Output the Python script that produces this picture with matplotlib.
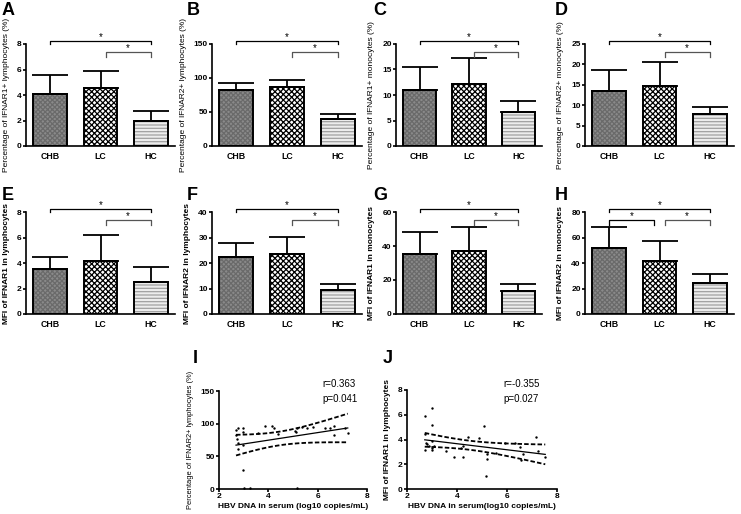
import numpy as np
import matplotlib.pyplot as plt
from matplotlib.transforms import blended_transform_factory

plt.rcParams['font.family'] = ['Liberation Sans', 'DejaVu Sans']
plt.rcParams['hatch.linewidth'] = 0.9

groups = ['CHB', 'LC', 'HC']

# ------------------------------
# bar panel values (mean, upper SD)
# ------------------------------
a_mean = [4.1, 4.55, 2.0]
a_err = [1.45, 1.35, 0.75]
b_mean = [82, 86.5, 39]
b_err = [10.5, 11, 7.5]
c_mean = [11.0, 12.1, 6.7]
c_err = [4.5, 5.2, 2.1]
d_mean = [13.5, 14.8, 7.8]
d_err = [5.1, 5.9, 1.8]
e_mean = [3.55, 4.15, 2.5]
e_err = [0.95, 2.05, 1.15]
f_mean = [22.5, 23.5, 9.5]
f_err = [5.5, 6.8, 2.3]
g_mean = [35.5, 37, 13.5]
g_err = [13, 14, 4]
h_mean = [51.5, 41.5, 24]
h_err = [17, 15.5, 7.5]

# ------------------------------
# scatter data (HBV DNA log10 copies/mL vs marker)
# ------------------------------
i_x = [2.69, 2.76, 2.69, 2.72, 2.75, 2.76, 2.99, 2.99, 2.99, 2.99, 3.0, 3.26,
       3.57, 3.87, 4.14, 4.21, 4.41, 5.09, 5.13, 5.18, 5.18, 5.36, 5.56, 5.83,
       6.31, 6.51, 6.65, 6.65, 7.12, 7.22]
i_y = [91, 94, 83, 77, 71, 61, 94, 88, 67, 29, 2, 2,
       86, 97, 96, 94, 84, 89, 87, 94, 2, 95, 94, 95,
       93, 93, 96, 82, 93, 86]
j_x = [2.71, 2.71, 2.74, 2.71, 2.81, 2.88, 2.98, 2.98, 2.98, 2.98, 3.01, 3.08,
       3.55, 3.89, 4.16, 4.22, 4.25, 4.43, 4.87, 5.06, 5.14, 5.19, 5.19, 5.57,
       5.91, 6.31, 6.51, 6.54, 6.65, 7.16, 7.22, 7.53]
j_y = [5.87, 4.45, 3.73, 3.12, 3.6, 3.47, 6.53, 5.15, 3.87, 3.33, 3.12, 3.47,
       3.07, 2.59, 3.28, 2.59, 3.47, 4.21, 4.13, 5.07, 1.07, 2.85, 2.4, 2.93,
       3.73, 3.73, 3.39, 2.32, 2.8, 4.21, 3.07, 2.59]

W, H = 741, 514
fig = plt.figure(figsize=(W / 100, H / 100), dpi=100)


def px_axes(left, top, right, bottom):
    return fig.add_axes([left / W, 1 - bottom / H, (right - left) / W, (bottom - top) / H])


faces = ['#8a8a8a', '#ffffff', '#ececec']
hatch_cols = ['#6a6a6a', '#000000', '#a0a0a0']
hatches = ['xxxxxxx', 'xxxxxx', '-----']


def style_axes(ax):
    for s in ['top', 'right']:
        ax.spines[s].set_visible(False)
    for s in ['left', 'bottom']:
        ax.spines[s].set_linewidth(1.2)
    ax.tick_params(axis='y', length=2, width=1.2, pad=1, labelsize=6)
    for lab in ax.get_yticklabels() + ax.get_xticklabels():
        lab.set_fontweight('bold')


def bracket(ax, x0, x1, y, h, color):
    tr = blended_transform_factory(ax.transData, ax.transAxes)
    ax.plot([x0, x0, x1, x1], [y - h, y, y, y - h], transform=tr,
            color=color, lw=0.9, clip_on=False)
    ax.text((x0 + x1) / 2, y - 0.01, '*', transform=tr, ha='center', va='bottom',
            fontsize=7, clip_on=False)


def bar_panel(ax, means, errs, ymax, ystep, ylabel, bold, extra=False):
    x = np.arange(3)
    for i in range(3):
        ax.bar(x[i], means[i], width=0.67, color=faces[i], edgecolor=hatch_cols[i],
               hatch=hatches[i], linewidth=0)
    ax.bar(x, means, width=0.67, fill=False, edgecolor='black', linewidth=1.4)
    ax.errorbar(x, means, yerr=[np.zeros(3), errs], fmt='none', ecolor='black',
                elinewidth=1.3, capsize=13, capthick=1.3)
    ax.set_xlim(-0.48, 2.48)
    ax.set_ylim(0, ymax)
    ax.set_yticks(np.arange(0, ymax + ystep / 2, ystep))
    ax.set_xticks(x, groups)
    ax.tick_params(axis='x', length=0, pad=4, labelsize=6.3)
    style_axes(ax)
    ax.set_ylabel(ylabel, fontsize=6, fontweight='bold' if bold else 'normal', labelpad=5)
    bracket(ax, 0, 2, 1.03, 0.03, 'black')
    bracket(ax, 1.1, 2, 0.92, 0.045, '#555555')
    if extra:
        bracket(ax, 0, 0.9, 0.92, 0.045, 'black')


cols = [(26, 175), (212, 362), (396, 542), (585, 734)]

# ------------------------------
# Row 1: percentages
# ------------------------------
row1 = [(a_mean, a_err, 8, 2, 'Percentage of IFNAR1+ lymphocytes (%)'),
        (b_mean, b_err, 150, 50, 'Percentage of IFNAR2+ lymphocytes (%)'),
        (c_mean, c_err, 20, 5, 'Percentage of IFNAR1+ monocytes (%)'),
        (d_mean, d_err, 25, 5, 'Percentage of IFNAR2+ monocytes (%)')]
for (l, r), (m, e, ymax, st, lab) in zip(cols, row1):
    ax = px_axes(l, 44, r, 146)
    bar_panel(ax, m, e, ymax, st, lab, False)

# ------------------------------
# Row 2: MFI
# ------------------------------
row2 = [(e_mean, e_err, 8, 2, 'MFI of IFNAR1 in lymphocytes'),
        (f_mean, f_err, 40, 10, 'MFI of IFNAR2 in lymphocytes'),
        (g_mean, g_err, 60, 20, 'MFI of IFNAR1 in monocytes'),
        (h_mean, h_err, 80, 20, 'MFI of IFNAR2 in monocytes')]
for k, ((l, r), (m, e, ymax, st, lab)) in enumerate(zip(cols, row2)):
    ax = px_axes(l, 212, r, 314)
    bar_panel(ax, m, e, ymax, st, lab, True, extra=(k == 3))


# ------------------------------
# Row 3: correlations
# ------------------------------
def fit_panel(ax, xs, ys):
    xs = np.array(xs)
    ys = np.array(ys)
    ax.scatter(xs, ys, s=3, color='black', linewidths=0, zorder=3)
    slope, intercept = np.polyfit(xs, ys, 1)
    n = len(xs)
    resid = ys - (slope * xs + intercept)
    s = np.sqrt(np.sum(resid ** 2) / (n - 2))
    xx = np.linspace(xs.min(), xs.max(), 100)
    yy = slope * xx + intercept
    se = s * np.sqrt(1 / n + (xx - xs.mean()) ** 2 / np.sum((xs - xs.mean()) ** 2))
    t = 2.04
    ax.plot(xx, yy, color='black', lw=0.9)
    ax.plot(xx, yy + t * se, color='black', lw=1.3, dashes=(2.5, 1.2))
    ax.plot(xx, yy - t * se, color='black', lw=1.3, dashes=(2.5, 1.2))
    ax.set_xlim(2, 8)
    ax.set_xticks([2, 4, 6, 8])
    ax.tick_params(axis='x', length=2, width=1.2, pad=1, labelsize=6)
    style_axes(ax)


ax = px_axes(219, 391, 367, 489)
fit_panel(ax, i_x, i_y)
ax.set_ylim(0, 150)
ax.set_yticks([0, 50, 100, 150])
for lab in ax.get_yticklabels():
    lab.set_fontweight('bold')
ax.set_ylabel('Percentage of IFNAR2+ lymphocytes (%)', fontsize=5.4, labelpad=5)
ax.set_xlabel('HBV DNA in serum (log10 copies/mL)', fontsize=6, fontweight='bold', labelpad=2)
fig.text(322 / W, 1 - 387 / H, 'r=0.363', fontsize=7)
fig.text(322 / W, 1 - 402 / H, 'p=0.041', fontsize=7)

ax = px_axes(407, 390, 557, 489)
fit_panel(ax, j_x, j_y)
ax.set_ylim(0, 8)
ax.set_yticks([0, 2, 4, 6, 8])
for lab in ax.get_yticklabels():
    lab.set_fontweight('bold')
ax.set_ylabel('MFI of IFNAR1 in lymphocytes', fontsize=6, fontweight='bold', labelpad=5)
ax.set_xlabel('HBV DNA in serum(log10 copies/mL)', fontsize=6, fontweight='bold', labelpad=2)
fig.text(503 / W, 1 - 387 / H, 'r=-0.355', fontsize=7)
fig.text(503 / W, 1 - 402 / H, 'p=0.027', fontsize=7)

# panel letters
letters = [('A', 2, 15), ('B', 187, 15), ('C', 373, 15), ('D', 555, 15),
           ('E', 2, 200), ('F', 187, 200), ('G', 373, 200), ('H', 555, 200),
           ('I', 193, 363), ('J', 383, 363)]
for t, x, y in letters:
    fig.text(x / W, 1 - y / H, t, fontsize=13, fontweight='bold', va='baseline')

fig.savefig('out.png', dpi=100)
